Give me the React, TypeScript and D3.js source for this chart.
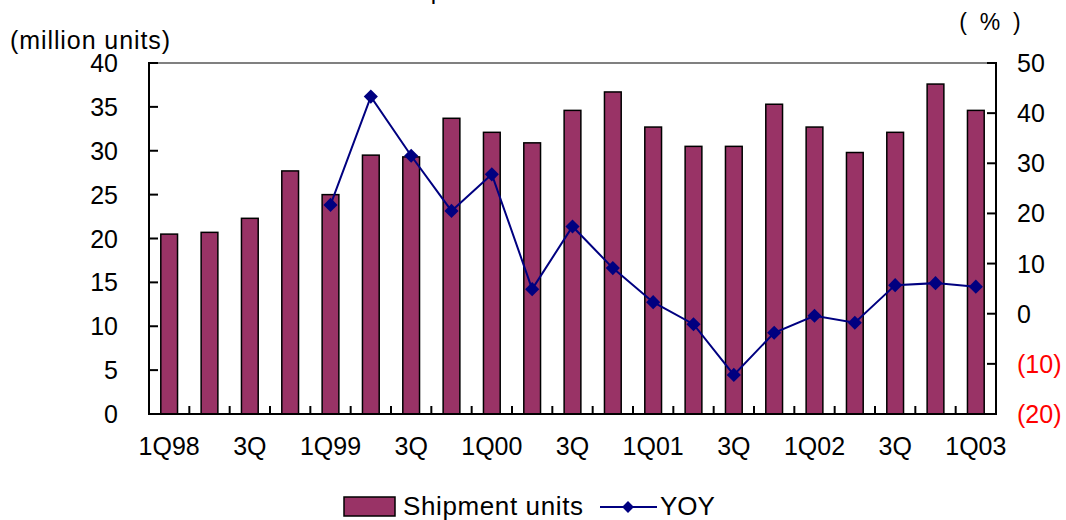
import React from "react";
import * as d3 from "d3";

const quarters = ["1Q98","2Q98","3Q98","4Q98","1Q99","2Q99","3Q99","4Q99","1Q00","2Q00","3Q00","4Q00","1Q01","2Q01","3Q01","4Q01","1Q02","2Q02","3Q02","4Q02","1Q03"];
const tickLabels = ["1Q98","","3Q","","1Q99","","3Q","","1Q00","","3Q","","1Q01","","3Q","","1Q02","","3Q","","1Q03"];
const shipments = [20.5,20.7,22.3,27.7,25.0,29.5,29.3,33.7,32.1,30.9,34.6,36.7,32.7,30.5,30.5,35.3,32.7,29.8,32.1,37.6,34.6];
const yoy: (number | null)[] = [null,null,null,null,21.7,43.3,31.5,20.5,27.8,4.9,17.4,9.1,2.3,-2.1,-12.2,-3.8,-0.4,-1.8,5.7,6.1,5.4];
const leftTicks = [0,5,10,15,20,25,30,35,40];
const rightTicks = [-20,-10,0,10,20,30,40,50];

const W = 1066, H = 520;
const L = 149, R = 996, T = 63, B = 414;
const FONT = "'Liberation Sans', Arial, sans-serif";
const BAR = "#993366";
const NAVY = "#000080";

export default function App() {
  const x = d3.scaleBand<number>().domain(quarters.map((_, i) => i)).range([L, R]).paddingInner(0.585).paddingOuter(0.2925);
  const step = x.step();
  const yL = d3.scaleLinear().domain([0, 40]).range([B, T]);
  const yR = d3.scaleLinear().domain([-20, 50]).range([B, T]);
  const cx = (i: number) => (x(i) as number) + x.bandwidth() / 2;

  const line = d3.line<[number, number]>().x(d => d[0]).y(d => d[1]);
  const pts: [number, number][] = yoy
    .map((v, i) => (v === null ? null : [cx(i), yR(v)] as [number, number]))
    .filter((p): p is [number, number] => p !== null);
  const diamond = d3.symbol(d3.symbolSquare, 100)();
  const diamondSmall = d3.symbol(d3.symbolSquare, 70)();

  return (
    <svg width={W} height={H} style={{ position: "absolute", left: 0, top: 0, background: "#fff" }} fontFamily={FONT}>
      {/* cut-off title */}
      <text x={396} y={-1} fontSize={24} fill="#000">Shipments</text>

      <text x={10} y={49} fontSize={25} textLength={160} lengthAdjust="spacing" fill="#000">(million units)</text>
      <text x={990} y={30} fontSize={23} textAnchor="middle" fill="#000" xmlSpace="preserve">(  %  )</text>

      {/* bars */}
      {shipments.map((v, i) => (
        <rect key={i} x={x(i)} y={yL(v)} width={x.bandwidth()} height={B - yL(v)} fill={BAR} stroke="#000" strokeWidth={1.5} />
      ))}

      {/* top border */}
      <line x1={L} x2={R} y1={T} y2={T} stroke="#808080" strokeWidth={2} />
      {/* axes */}
      <line x1={L} x2={L} y1={T - 1} y2={B + 1} stroke="#000" strokeWidth={2} />
      <line x1={R} x2={R} y1={T - 1} y2={B + 1} stroke="#000" strokeWidth={2} />
      <line x1={L - 1} x2={R + 1} y1={B} y2={B} stroke="#000" strokeWidth={2} />

      {leftTicks.map(t => (
        <g key={"l" + t}>
          <line x1={L} x2={L + 9} y1={yL(t)} y2={yL(t)} stroke="#000" strokeWidth={2} />
          <text x={118} y={yL(t) + 9} fontSize={25} textAnchor="end" fill="#000">{t}</text>
        </g>
      ))}
      {rightTicks.map(t => (
        <g key={"r" + t}>
          <line x1={R - 9} x2={R} y1={yR(t)} y2={yR(t)} stroke="#000" strokeWidth={2} />
          <text x={1017} y={yR(t) + 9} fontSize={25} fill={t < 0 ? "#ff0000" : "#000"}>{t < 0 ? `(${-t})` : t}</text>
        </g>
      ))}
      {quarters.slice(1).map((_, k) => {
        const xb = L + step * (k + 1);
        return <line key={"x" + k} x1={xb} x2={xb} y1={B} y2={B - 8} stroke="#000" strokeWidth={2} />;
      })}
      {tickLabels.map((lab, i) => lab ? (
        <text key={"t" + i} x={cx(i)} y={455} fontSize={25} textAnchor="middle" fill="#000">{lab}</text>
      ) : null)}

      {/* YOY line */}
      <path d={line(pts) || ""} fill="none" stroke={NAVY} strokeWidth={2} />
      {pts.map((p, i) => (
        <path key={"d" + i} d={diamond || ""} transform={`translate(${p[0]},${p[1]}) rotate(45)`} fill={NAVY} />
      ))}

      {/* legend */}
      <rect x={344} y={497} width={51} height={19} fill={BAR} stroke="#000" strokeWidth={1.5} />
      <text x={403} y={515} fontSize={26} textLength={180} lengthAdjust="spacing" fill="#000">Shipment units</text>
      <line x1={600} x2={657} y1={507} y2={507} stroke={NAVY} strokeWidth={2} />
      <path d={diamondSmall || ""} transform="translate(628,507) rotate(45)" fill={NAVY} />
      <text x={660} y={515} fontSize={26} fill="#000">YOY</text>
    </svg>
  );
}
